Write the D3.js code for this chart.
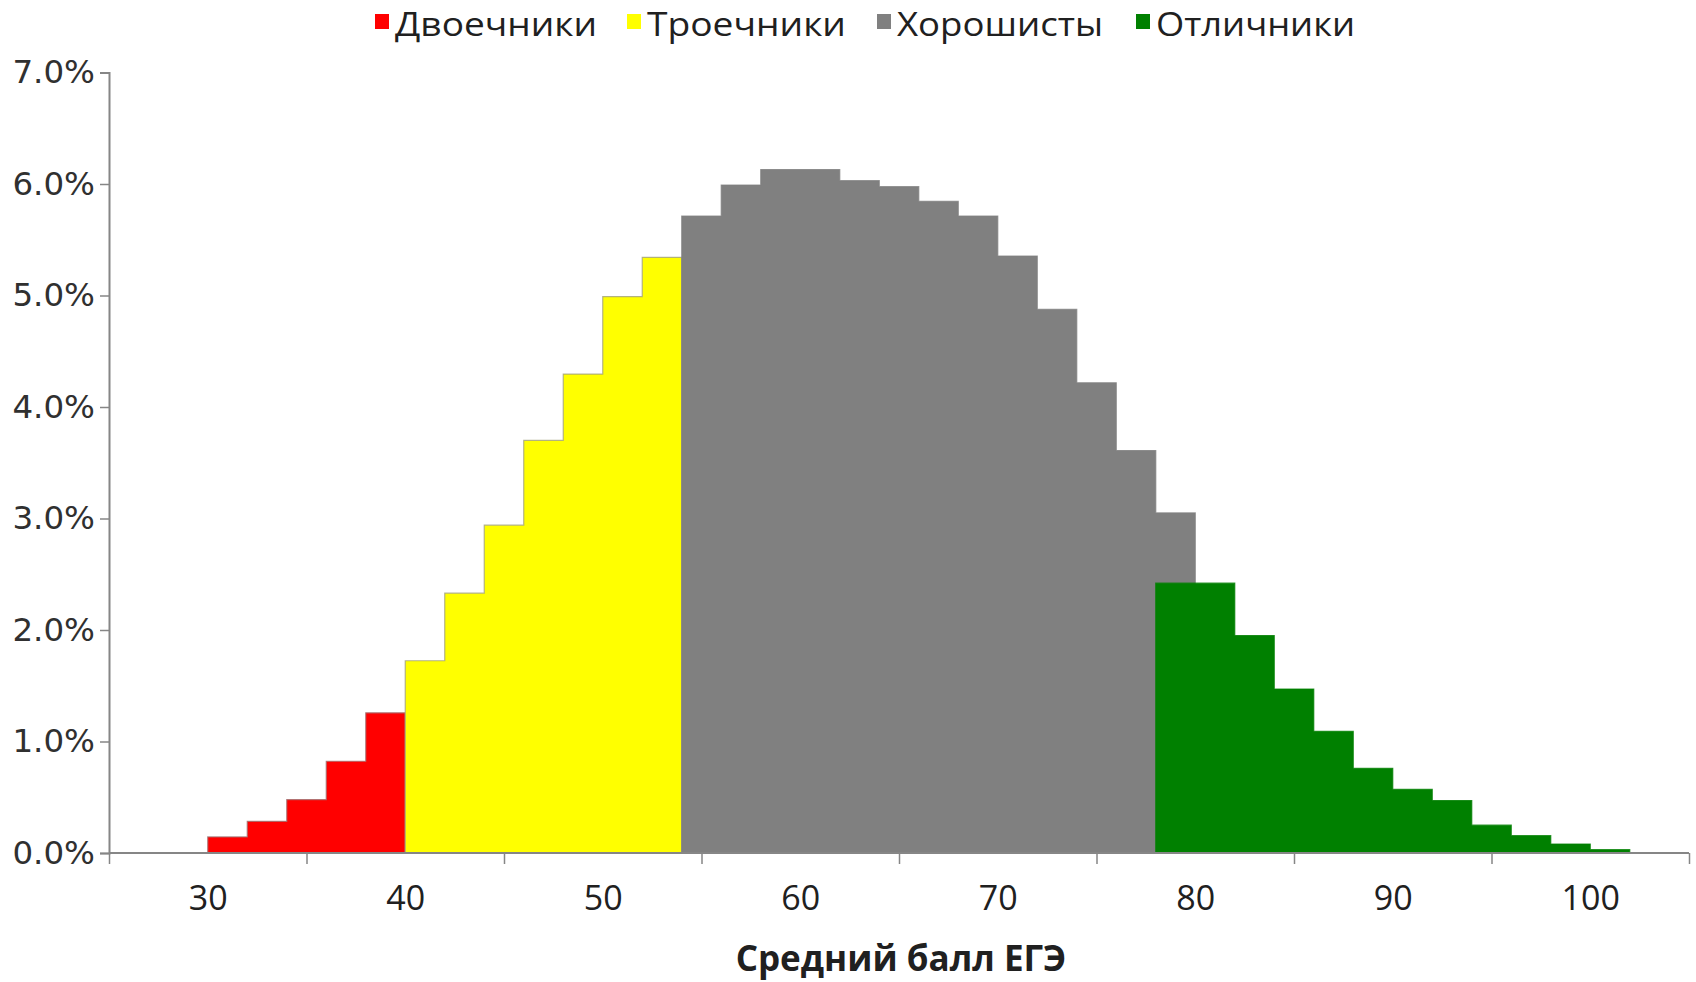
<!DOCTYPE html>
<html>
<head>
<meta charset="utf-8">
<script src="https://cdn.jsdelivr.net/npm/d3@7"></script>
<style>
  html, body { margin: 0; padding: 0; background: #fff; }
  svg { display: block; }
</style>
</head>
<body>
<svg id="chart" width="1696" height="982"></svg>
<script>
// ---- data (percent of students per 2-point bin of average USE score) ----
const binWidth = 2;
const dvoechnikiStart = 30;
const dvoechniki = [0.144, 0.284, 0.479, 0.823, 1.257];
const troechnikiStart = 40;
const troechniki = [1.724, 2.33, 2.94, 3.70, 4.295, 4.99, 5.342];
const khoroshistyStart = 54;
const khoroshisty = [5.713, 5.99, 6.13, 6.13, 6.03, 5.976, 5.844, 5.713, 5.354, 4.875, 4.217, 3.61, 3.05];
const otlichnikiStart = 78;
const otlichniki = [2.42, 2.42, 1.95, 1.47, 1.09, 0.76, 0.57, 0.47, 0.25, 0.155, 0.08, 0.03];

const seriesNames = ["Двоечники", "Троечники", "Хорошисты", "Отличники"];
const seriesColors = ["#ff0000", "#ffff00", "#808080", "#008000"];
const seriesStroke = ["#a07070", "#a0a080", "#808080", "#008000"];
const seriesValues = [dvoechniki, troechniki, khoroshisty, otlichniki];
const seriesStarts = [dvoechnikiStart, troechnikiStart, khoroshistyStart, otlichnikiStart];

const yTicks = [0, 1, 2, 3, 4, 5, 6, 7];
const xLabelTicks = [30, 40, 50, 60, 70, 80, 90, 100];
const xMarkTicks = [25, 35, 45, 55, 65, 75, 85, 95, 105];
const xTitle = "Средний балл ЕГЭ";

// ---- layout ----
const svg = d3.select("#chart");
const plotLeft = 109, plotRight = 1689, plotTop = 72.5, plotBottom = 853;

const x = d3.scaleLinear().domain([25, 105]).range([plotLeft, plotRight]);
const y = d3.scaleLinear().domain([0, 7]).range([plotBottom, plotTop]);

// ---- areas ----
const area = d3.area()
  .x(d => x(d.x))
  .y0(y(0))
  .y1(d => y(d.v))
  .curve(d3.curveStepAfter);

seriesValues.forEach((vals, i) => {
  const pts = vals.map((v, j) => ({ x: seriesStarts[i] + j * binWidth, v }));
  pts.push({ x: seriesStarts[i] + vals.length * binWidth, v: vals[vals.length - 1] });
  svg.append("path")
    .datum(pts)
    .attr("d", area)
    .attr("fill", seriesColors[i])
    .attr("stroke", seriesStroke[i])
    .attr("stroke-width", 1.2)
    .attr("stroke-opacity", 0.8);
});

// ---- y axis ----
const yAxis = svg.append("g")
  .attr("transform", `translate(${plotLeft},0)`)
  .call(d3.axisLeft(y).tickValues(yTicks).tickSize(9).tickPadding(5)
    .tickFormat(d => d.toFixed(1) + "%"));
yAxis.select(".domain").attr("stroke", "#868686").attr("stroke-width", 2);
yAxis.selectAll(".tick line").attr("stroke", "#868686").attr("stroke-width", 1.5);
yAxis.selectAll(".tick text")
  .attr("font-family", "DejaVu Sans")
  .attr("font-size", 32.5)
  .attr("fill", "#303030");

// ---- x axis: tick marks ----
const xAxisMarks = svg.append("g")
  .attr("transform", `translate(0,${plotBottom})`)
  .call(d3.axisBottom(x).tickValues(xMarkTicks).tickSize(11).tickFormat(""));
xAxisMarks.select(".domain").attr("stroke", "#868686").attr("stroke-width", 2)
  .attr("d", `M${plotLeft},0H${plotRight}`);
xAxisMarks.selectAll(".tick line").attr("stroke", "#868686").attr("stroke-width", 1.5);

// ---- x axis: labels ----
const xAxisLabels = svg.append("g")
  .attr("transform", `translate(0,${plotBottom})`)
  .call(d3.axisBottom(x).tickValues(xLabelTicks).tickSize(0).tickPadding(33)
    .tickFormat(d => String(d)));
xAxisLabels.select(".domain").remove();
xAxisLabels.selectAll(".tick text")
  .attr("font-family", "Open Sans")
  .attr("font-size", 34)
  .attr("fill", "#202020");

// ---- x axis title ----
svg.append("text")
  .attr("x", 901)
  .attr("y", 971)
  .attr("text-anchor", "middle")
  .attr("font-family", "Open Sans")
  .attr("font-weight", "bold")
  .attr("font-size", 35)
  .attr("fill", "#202020")
  .text(xTitle);

// ---- legend ----
const legendX = [375, 627, 877, 1136];
const legendTextWidth = [202, 199, 206, 199];
const legend = svg.append("g");
seriesNames.forEach((name, i) => {
  const g = legend.append("g").attr("transform", `translate(${legendX[i]},0)`);
  g.append("rect")
    .attr("x", 0).attr("y", 14)
    .attr("width", 14).attr("height", 15)
    .attr("fill", seriesColors[i]);
  g.append("text")
    .attr("x", 20).attr("y", 36)
    .attr("font-family", "Open Sans")
    .attr("font-size", 33)
    .attr("textLength", legendTextWidth[i])
    .attr("lengthAdjust", "spacingAndGlyphs")
    .attr("fill", "#202020")
    .text(name);
});
</script>
</body>
</html>
